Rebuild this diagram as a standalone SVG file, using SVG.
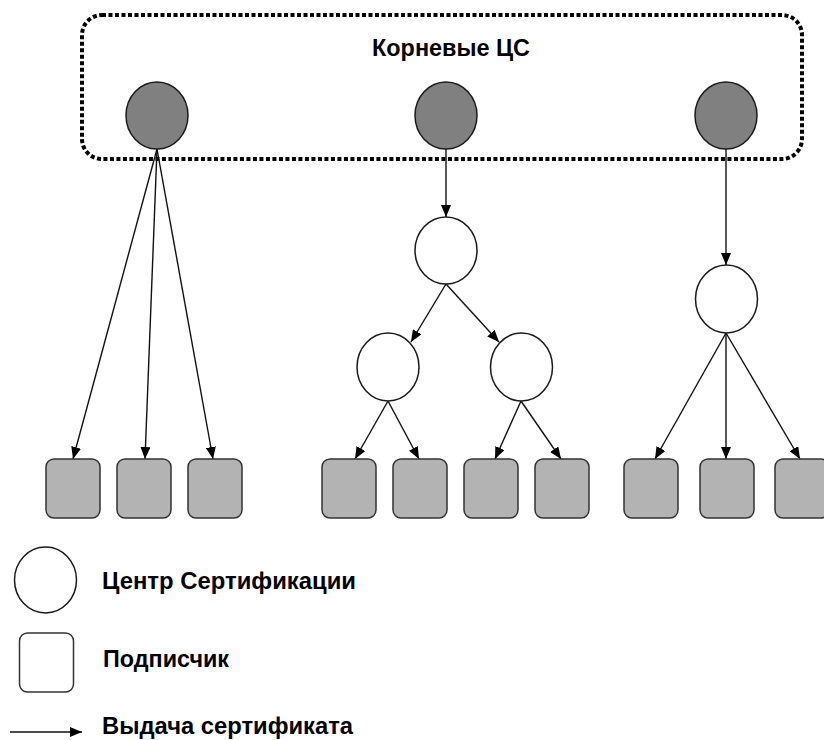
<svg xmlns="http://www.w3.org/2000/svg" width="824" height="740" viewBox="0 0 824 740">
<style>
.root{fill:#808080;stroke:#1a1a1a;stroke-width:1.5}
.ca{fill:#fff;stroke:#1a1a1a;stroke-width:1.5}
.leaf{fill:#b3b3b3;stroke:#333;stroke-width:1.5}
.edge{stroke:#111;stroke-width:1.4;fill:none;marker-end:url(#ah)}
.lbl{font-family:"Liberation Sans",Arial,sans-serif;font-weight:bold;font-size:24px;fill:#000}
</style>
<defs>
<marker id="ah" viewBox="0 0 12 10" refX="12" refY="5" markerWidth="12" markerHeight="10" markerUnits="userSpaceOnUse" orient="auto">
<path d="M0,0 L12,5 L0,10 z" fill="#000"/>
</marker>
</defs>
<rect x="82" y="15" width="720" height="144" rx="20" ry="20" fill="none" stroke="#000" stroke-width="4" stroke-dasharray="4 2.5"/>
<text class="lbl" x="451" y="56" text-anchor="middle" textLength="158" lengthAdjust="spacingAndGlyphs">Корневые ЦС</text>
<g id="connectors">
<line class="edge" x1="157" y1="149" x2="73" y2="459"/>
<line class="edge" x1="157" y1="149" x2="145" y2="459"/>
<line class="edge" x1="157" y1="149" x2="213" y2="459"/>
<line class="edge" x1="446" y1="149" x2="446" y2="217"/>
<line class="edge" x1="446" y1="284" x2="411" y2="342"/>
<line class="edge" x1="446" y1="284" x2="499" y2="342"/>
<line class="edge" x1="388" y1="401" x2="355" y2="459"/>
<line class="edge" x1="388" y1="401" x2="419" y2="459"/>
<line class="edge" x1="521" y1="401" x2="495" y2="459"/>
<line class="edge" x1="521" y1="401" x2="561" y2="459"/>
<line class="edge" x1="726" y1="149" x2="726" y2="265"/>
<line class="edge" x1="726" y1="333" x2="655" y2="459"/>
<line class="edge" x1="726" y1="333" x2="726" y2="459"/>
<line class="edge" x1="726" y1="333" x2="800" y2="459"/>
</g>
<g id="root1"><ellipse class="root" cx="157" cy="115.5" rx="31" ry="33.5"/></g>
<g id="root2"><ellipse class="root" cx="446" cy="115.5" rx="31" ry="33.5"/></g>
<g id="root3"><ellipse class="root" cx="726" cy="115.5" rx="31" ry="33.5"/></g>
<g id="ca-mid"><ellipse class="ca" cx="446" cy="250.5" rx="31" ry="33.5"/></g>
<g id="ca-mid-left"><ellipse class="ca" cx="388" cy="367" rx="31" ry="34"/></g>
<g id="ca-mid-right"><ellipse class="ca" cx="521.5" cy="367" rx="31" ry="34"/></g>
<g id="ca-right"><ellipse class="ca" cx="726.5" cy="299" rx="31" ry="34"/></g>
<g id="leaf1"><rect class="leaf" x="46" y="459" width="54" height="59" rx="8"/></g>
<g id="leaf2"><rect class="leaf" x="117" y="459" width="54" height="59" rx="8"/></g>
<g id="leaf3"><rect class="leaf" x="188" y="459" width="54" height="59" rx="8"/></g>
<g id="leaf4"><rect class="leaf" x="322" y="459" width="54" height="59" rx="8"/></g>
<g id="leaf5"><rect class="leaf" x="393" y="459" width="54" height="59" rx="8"/></g>
<g id="leaf6"><rect class="leaf" x="464" y="459" width="54" height="59" rx="8"/></g>
<g id="leaf7"><rect class="leaf" x="535" y="459" width="54" height="59" rx="8"/></g>
<g id="leaf8"><rect class="leaf" x="624" y="459" width="54" height="59" rx="8"/></g>
<g id="leaf9"><rect class="leaf" x="700" y="459" width="54" height="59" rx="8"/></g>
<g id="leaf10"><rect class="leaf" x="775" y="459" width="54" height="59" rx="8"/></g>
<g id="legend-ca">
<ellipse class="ca" cx="45.5" cy="580" rx="31" ry="33"/>
<text class="lbl" x="102" y="589" textLength="254" lengthAdjust="spacingAndGlyphs">Центр Сертификации</text>
</g>
<g id="legend-sub">
<rect x="19.5" y="633" width="54" height="59" rx="8" fill="#fff" stroke="#333" stroke-width="1.5"/>
<text class="lbl" x="103" y="667" textLength="126" lengthAdjust="spacingAndGlyphs">Подписчик</text>
</g>
<g id="legend-edge">
<line class="edge" x1="10" y1="732" x2="82" y2="732"/>
<text class="lbl" x="102" y="734" textLength="251" lengthAdjust="spacingAndGlyphs">Выдача сертификата</text>
</g>
</svg>
